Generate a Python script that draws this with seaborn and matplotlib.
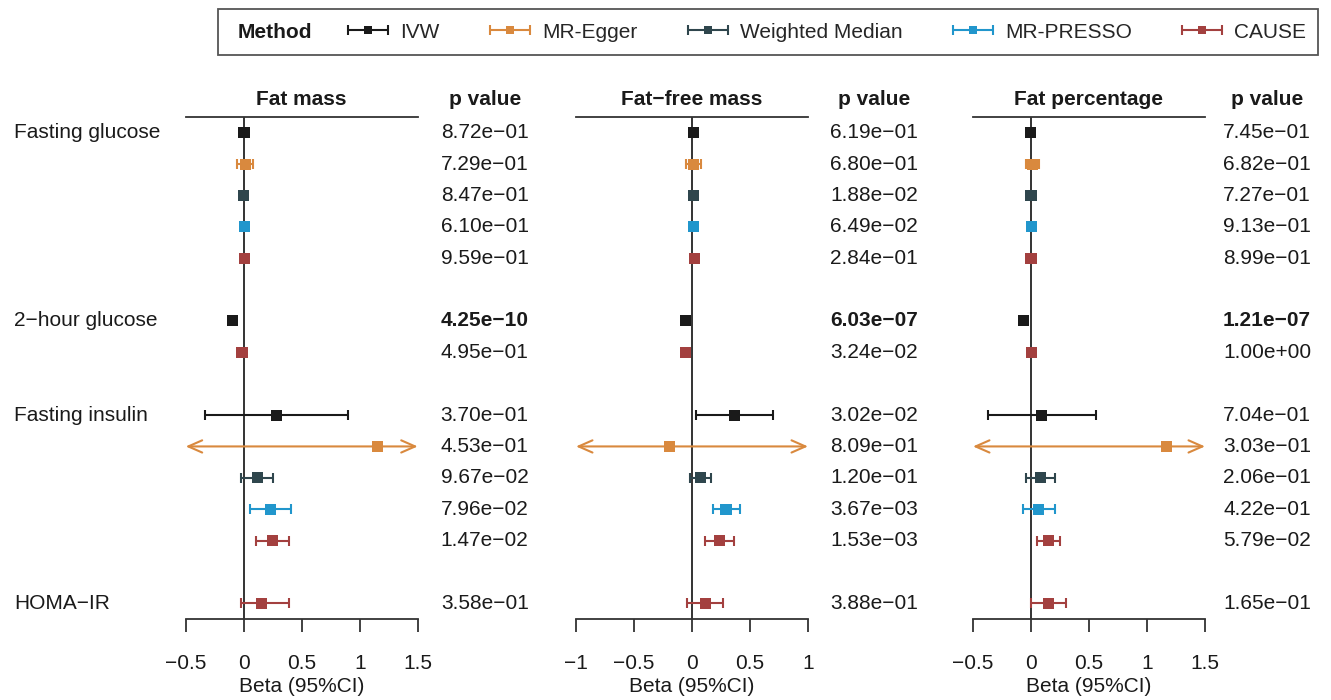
import numpy as np
import pandas as pd
import matplotlib
matplotlib.use("Agg")
import matplotlib.pyplot as plt
import matplotlib.ticker as mtick
import matplotlib.transforms as mtrans
from matplotlib.patches import Rectangle
from matplotlib.lines import Line2D
from matplotlib.collections import LineCollection
from matplotlib.container import ErrorbarContainer
from matplotlib.legend_handler import HandlerErrorbar
import seaborn as sns

# Data
methods = ["IVW", "MR-Egger", "Weighted Median", "MR-PRESSO", "CAUSE"]
colors = ["#1A1A1A", "#D9893E", "#2F464D", "#2196CC", "#A3403F"]
outcomes = ["Fasting glucose", "2\u2212hour glucose", "Fasting insulin", "HOMA\u2212IR"]
exposures = ["Fat mass", "Fat\u2212free mass", "Fat percentage"]

# one entry per estimate (same order in every panel)
row_outcome = ["Fasting glucose"] * 5 + ["2\u2212hour glucose"] * 2 + \
              ["Fasting insulin"] * 5 + ["HOMA\u2212IR"]
row_method = methods + ["IVW", "CAUSE"] + methods + ["CAUSE"]

beta_fm = [0.003, 0.015, 0.002, 0.005, 0.004, -0.100, -0.015,
           0.280, 1.150, 0.116, 0.230, 0.250, 0.157]
lo_fm = [-0.035, -0.055, -0.018, -0.015, -0.012, -0.125, -0.050,
         -0.330, -1.850, -0.020, 0.055, 0.110, -0.026]
hi_fm = [0.040, 0.080, 0.022, 0.025, 0.020, -0.075, 0.020,
         0.900, 4.150, 0.255, 0.405, 0.390, 0.390]
p_fm = [8.72e-01, 7.29e-01, 8.47e-01, 6.10e-01, 9.59e-01, 4.25e-10, 4.95e-01,
        3.70e-01, 4.53e-01, 9.67e-02, 7.96e-02, 1.47e-02, 3.58e-01]

beta_ffm = [0.010, 0.012, 0.015, 0.015, 0.024, -0.055, -0.055,
            0.365, -0.197, 0.070, 0.293, 0.235, 0.113]
lo_ffm = [-0.020, -0.050, 0.000, -0.002, 0.005, -0.075, -0.080,
          0.032, -1.790, -0.020, 0.180, 0.113, -0.040]
hi_ffm = [0.040, 0.080, 0.030, 0.030, 0.040, -0.035, -0.030,
          0.700, 1.390, 0.163, 0.415, 0.363, 0.270]
p_ffm = [6.19e-01, 6.80e-01, 1.88e-02, 6.49e-02, 2.84e-01, 6.03e-07, 3.24e-02,
         3.02e-02, 8.09e-01, 1.20e-01, 3.67e-03, 1.53e-03, 3.88e-01]

beta_fp = [-0.003, 0.010, 0.000, 0.003, 0.000, -0.067, 0.003,
           0.093, 1.168, 0.081, 0.064, 0.148, 0.154]
lo_fp = [-0.020, -0.040, -0.015, -0.012, -0.015, -0.085, -0.010,
         -0.371, -1.050, -0.040, -0.072, 0.049, 0.003]
hi_fp = [0.015, 0.065, 0.015, 0.018, 0.015, -0.045, 0.015,
         0.560, 3.390, 0.203, 0.203, 0.252, 0.304]
p_fp = [7.45e-01, 6.82e-01, 7.27e-01, 9.13e-01, 8.99e-01, 1.21e-07, 1.00e+00,
        7.04e-01, 3.03e-01, 2.06e-01, 4.22e-01, 5.79e-02, 1.65e-01]

xlims = [(-0.5, 1.5), (-1.0, 1.0), (-0.5, 1.5)]
bold_threshold = 1e-5

# row positions: blank slot between outcome groups
rows = []
pos = 0
for i, o in enumerate(row_outcome):
    if i > 0 and o != row_outcome[i - 1]:
        pos += 1
    rows.append(pos)
    pos += 1
n_slots = pos

panels = []
for b, lo, hi, p in [(beta_fm, lo_fm, hi_fm, p_fm),
                     (beta_ffm, lo_ffm, hi_ffm, p_ffm),
                     (beta_fp, lo_fp, hi_fp, p_fp)]:
    panels.append(pd.DataFrame({"outcome": row_outcome, "method": row_method,
                                "row": rows, "beta": b, "lo": lo, "hi": hi, "p": p}))

# Style
sns.set_theme(style="white")
plt.rcParams["font.family"] = ["Liberation Sans", "DejaVu Sans"]
palette = dict(zip(methods, colors))
LINE = "#333333"
FS = 15

W, H = 1331, 700
fig = plt.figure(figsize=(W / 100, H / 100), dpi=100)
top_px, bot_px = 117, 619
ax_left = [185.7, 576, 973]
ax_w = 232
pcol_off = [67, 66, 62]

axes = []
for k, df in enumerate(panels):
    ax = fig.add_axes([ax_left[k] / W, 1 - bot_px / H, ax_w / W, (bot_px - top_px) / H])
    axes.append(ax)
    xmin, xmax = xlims[k]
    ax.axvline(0, color=LINE, lw=1.4, zorder=1)

    inside = (df["lo"] >= xmin) & (df["hi"] <= xmax)
    for m in methods:
        sub = df[(df["method"] == m) & inside]
        if len(sub):
            ax.errorbar(sub["beta"], sub["row"],
                        xerr=[sub["beta"] - sub["lo"], sub["hi"] - sub["beta"]],
                        fmt="none", ecolor=palette[m], elinewidth=1.5,
                        capsize=3.3, capthick=1.5, zorder=2)
    # clipped intervals drawn as arrows to the axis limits
    for _, r in df[~inside].iterrows():
        style = "<->" if (r["lo"] < xmin and r["hi"] > xmax) else ("<-" if r["lo"] < xmin else "->")
        ax.annotate("", xy=(min(r["hi"], xmax), r["row"]),
                    xytext=(max(r["lo"], xmin), r["row"]),
                    arrowprops=dict(arrowstyle=style + ",head_length=0.5,head_width=0.22",
                                    color=palette[r["method"]],
                                    lw=1.5, shrinkA=0, shrinkB=0,
                                    mutation_scale=20),
                    zorder=2)

    sns.scatterplot(data=df, x="beta", y="row", hue="method", palette=palette,
                    hue_order=methods, marker="s", s=64, linewidth=0,
                    legend=False, ax=ax, zorder=3)

    ax.set_xlim(xmin, xmax)
    ax.set_ylim(n_slots - 0.5, -0.5)
    ax.set_xticks(np.arange(xmin, xmax + 0.01, 0.5))
    ax.xaxis.set_major_formatter(mtick.FuncFormatter(lambda v, _: f"{v:g}".replace("-", "\u2212")))
    ax.set_yticks([])
    ax.set_ylabel("")
    ax.set_xlabel("Beta (95%CI)", fontsize=FS, labelpad=3, color="#1a1a1a")
    for s in ["left", "right"]:
        ax.spines[s].set_visible(False)
    for s in ["top", "bottom"]:
        ax.spines[s].set_color(LINE)
        ax.spines[s].set_linewidth(1.3)
    ax.tick_params(axis="x", bottom=True, direction="out", length=9.4, width=1.3,
                   color=LINE, labelsize=FS, pad=16, labelcolor="#1a1a1a")
    ax.patch.set_alpha(0)

    # headers
    head_y = 1 + 17.4 / (bot_px - top_px)
    pcol = 1 + pcol_off[k] / ax_w
    ax.text(0.5, head_y, exposures[k], transform=ax.transAxes, ha="center",
            va="center", fontsize=FS, fontweight="bold", color="#1a1a1a")
    ax.text(pcol, head_y, "p value", transform=ax.transAxes, ha="center",
            va="center", fontsize=FS, fontweight="bold", color="#1a1a1a")

    # p values
    tr = mtrans.blended_transform_factory(ax.transAxes, ax.transData)
    for _, r in df.iterrows():
        txt = f"{r['p']:.2e}".replace("-", "\u2212")
        ax.text(pcol, r["row"], txt, transform=tr, ha="center", va="center",
                fontsize=FS, color="#1a1a1a",
                fontweight="bold" if r["p"] < bold_threshold else "normal")

# outcome labels
tr = mtrans.blended_transform_factory(fig.transFigure, axes[0].transData)
first = panels[0].groupby("outcome", sort=False)["row"].min()
for o in outcomes:
    fig.text(14 / W, first[o], o, transform=tr, ha="left", va="center",
             fontsize=FS, color="#1a1a1a")

# legend
fig.add_artist(Rectangle((218 / W, 1 - 55 / H), 1100 / W, 46 / H,
                         transform=fig.transFigure, fill=False,
                         edgecolor="#555555", lw=1.3))
fig.text(238 / W, 1 - 32 / H, "Method", fontsize=FS, fontweight="bold",
         va="center", ha="left", color="#1a1a1a")
handles = []
for m in methods:
    c = palette[m]
    dl = Line2D([], [], linestyle="none", marker="s", markersize=6,
                color=c, markeredgewidth=0)
    cap = Line2D([], [], linestyle="none", marker="|", markersize=7,
                 color=c, markeredgewidth=1.5)
    bar = LineCollection([], colors=c, linewidths=1.5)
    handles.append(ErrorbarContainer((dl, (cap, cap), (bar,)),
                                     has_xerr=True, has_yerr=False, label=m))
fig.legend(handles, methods, loc="center left",
           bbox_to_anchor=(348 / W, 1 - 32 / H), ncol=5, frameon=False,
           fontsize=FS, handlelength=1.92, handletextpad=0.58,
           columnspacing=2.42, borderpad=0, borderaxespad=0,
           handler_map={ErrorbarContainer: HandlerErrorbar(xerr_size=0.96)})

fig.savefig("out.png", dpi=100, facecolor="white")
